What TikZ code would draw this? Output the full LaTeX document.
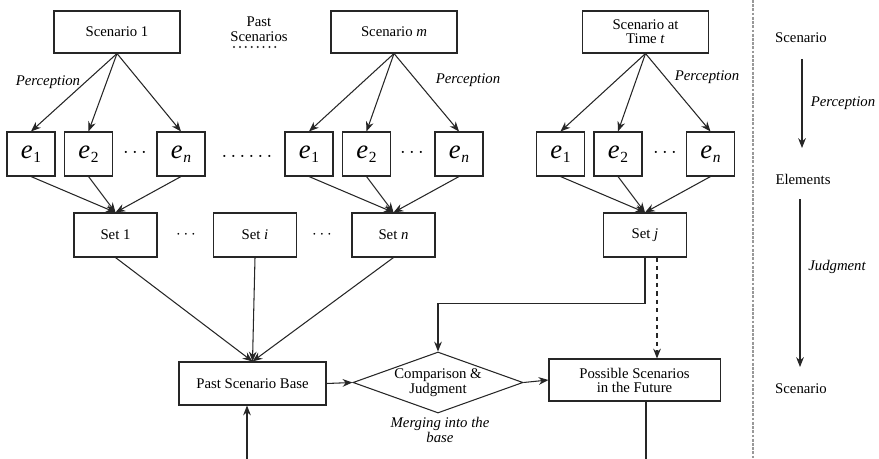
\documentclass[tikz,border=0pt]{standalone}
\usepackage{fontspec}
\setmainfont{Liberation Serif}
\usetikzlibrary{arrows.meta,shapes.geometric}

% element symbol with a small subscript
\newcommand{\elt}[1]{\textit{e}\kern0.5pt\raisebox{-3pt}{\fontsize{11}{11}\selectfont #1}}

\begin{document}
\begin{tikzpicture}[x=0.025cm, y=-0.025cm, line width=0.75pt, draw=black!85,
    box/.style={rectangle, draw, minimum width=3.15cm, minimum height=1.05cm, align=center, font=\fontsize{10.5}{12}\selectfont},
    elem/.style={rectangle, draw, minimum width=1.2cm, minimum height=1.1cm, inner sep=0pt, font=\fontsize{19}{20}\selectfont},
    setbox/.style={rectangle, draw, minimum width=2.075cm, minimum height=1.1cm, font=\fontsize{10.5}{12}\selectfont},
    lbl/.style={font=\fontsize{10.5}{12}\selectfont\itshape, align=center},
    txt/.style={font=\fontsize{10.5}{12}\selectfont, align=center},
    dots/.style={font=\fontsize{15}{15}\selectfont, inner sep=0pt},
    arr/.style={-{Stealth[length=7pt,width=5.5pt]}}]

    \useasboundingbox (0,0) rectangle (879,459);

    % scenarios
    \node[box] (s1) at (117,32) {Scenario 1};
    \node[box] (sm) at (394,32) {Scenario \textit{m}};
    \node[box] (st) at (645.5,32) {Scenario at\\[-2pt]Time \textit{t}};
    \node[txt] (past) at (259,29) {Past\\[-1pt]Scenarios};
    \draw[line width=1.6pt, dash pattern=on 0pt off 4.2pt, line cap=round] (234,47) -- (277,47);

    % elements
    \node[elem] (a1) at (31,154) {\elt{1}};
    \node[elem] (a2) at (88.5,154) {\elt{2}};
    \node[dots] (ad) at (135,153) {$\cdots$};
    \node[elem] (an) at (181,154) {\elt{\textit{n}}};
    \node[dots] (gap) at (247,157) {$\cdots\cdots$};
    \node[elem] (b1) at (309,154) {\elt{1}};
    \node[elem] (b2) at (366.5,154) {\elt{2}};
    \node[dots] (bd) at (412,153) {$\cdots$};
    \node[elem] (bn) at (459,154) {\elt{\textit{n}}};
    \node[elem] (c1) at (560.5,154) {\elt{1}};
    \node[elem] (c2) at (618,154) {\elt{2}};
    \node[dots] (cd) at (665,153) {$\cdots$};
    \node[elem] (cn) at (710.5,154) {\elt{\textit{n}}};

    % sets
    \node[setbox] (set1) at (115.5,235) {Set 1};
    \node[dots, font=\fontsize{13}{13}\selectfont] (sd1) at (186,235) {$\cdots$};
    \node[setbox] (seti) at (255,235) {Set \textit{i}};
    \node[dots, font=\fontsize{13}{13}\selectfont] (sd2) at (322,235) {$\cdots$};
    \node[setbox] (setn) at (393.5,235) {Set \textit{n}};
    \node[setbox] (setj) at (645,235) {Set \textit{j}};

    % base, comparison, future
    \node[box, minimum width=3.675cm, minimum height=1.075cm] (psb) at (252.5,383.5) {Past Scenario Base};
    \node[diamond, draw, aspect=2.8, inner sep=0pt, minimum width=4.25cm, minimum height=1.525cm, txt] (cmp) at (438,382.5) {Comparison \&\\[-1pt]Judgment};
    \node[lbl] (merge) at (440,430) {Merging into the\\[-1pt]base};
    \node[box, minimum width=4.275cm, minimum height=1.05cm] (poss) at (634.5,380) {Possible Scenarios\\[-2pt]in the Future};
    \coordinate (inp) at (247,459);
    \coordinate (outp) at (646,459);

    % perception arrows
    \foreach \s/\g in {s1/a, sm/b, st/c}
        \foreach \e in {1,2,n}
            \draw[arr] (\s.south) -- (\g\e.north);
    \node[lbl] (p1) at (48,82) {Perception};
    \node[lbl] (p2) at (468,80) {Perception};
    \node[lbl] (p3) at (707,77) {Perception};

    % elements into sets
    \foreach \g/\t in {a/set1, b/setn, c/setj}
        \foreach \e in {1,2,n}
            \draw[arr] (\g\e.south) -- (\t.north);

    % sets into the base
    \foreach \t in {set1, seti, setn}
        \draw[arr] (\t.south) -- (psb.north);
    \draw[arr] (inp) -- (inp |- psb.south);
    \draw[arr] (psb.east) -- (cmp.west);
    \draw[arr] (cmp.east) -- (poss.west);
    \draw[arr] (setj.south) -- ++(0,46) -| (cmp.north);
    \draw[arr, dashed] ([xshift=0.3cm]setj.south) -- ([xshift=0.3cm]setj.south |- poss.north);
    \draw (poss.south -| outp) -- (outp);

    % separator and legend
    \draw[gray!80, dash pattern=on 2pt off 1pt] (753,0) -- (753,459);
    \node[txt] (ls1) at (801,38) {Scenario};
    \node[txt] (lel) at (803,179) {Elements};
    \node[txt] (ls2) at (801,389) {Scenario};
    \draw[arr] (802,59) -- (802,148);
    \draw[arr] (800,199) -- (800,367);
    \node[lbl] (lp) at (843,103) {Perception};
    \node[lbl] (lj) at (837,267) {Judgment};

\end{tikzpicture}
\end{document}
